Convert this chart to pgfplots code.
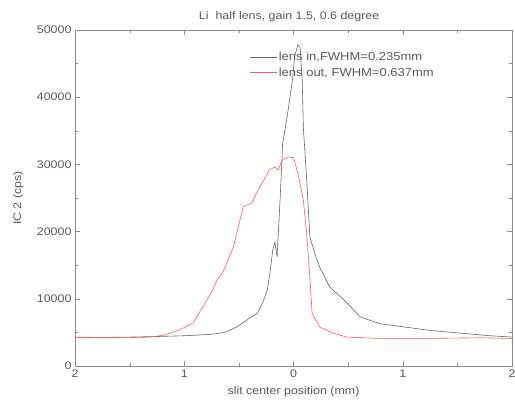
\documentclass[border=0pt]{standalone}
\usepackage{fontspec}
\setmainfont[FakeStretch=1.13]{Liberation Sans}
\usepackage{pgfplots}
\pgfplotsset{compat=1.18}
\definecolor{txt}{gray}{0.35}
\definecolor{ax}{gray}{0.55}
\definecolor{grey1}{gray}{0.4}
\definecolor{red1}{RGB}{255,90,90}
\begin{document}
\begin{tikzpicture}
\useasboundingbox (0,0) rectangle (515pt,401pt);
\begin{axis}[
  at={(75pt,35pt)}, anchor=south west,
  scale only axis, width=437pt, height=336pt,
  xmin=-2, xmax=2, ymin=0, ymax=50000,
  xtick={-2,-1,0,1,2}, xticklabels={2,1,0,1,2},
  ytick={0,10000,20000,30000,40000,50000},
  minor x tick num=1, minor y tick num=1,
  tick align=inside,
  major tick length=5pt, minor tick length=3pt,
  /pgf/number format/1000 sep={},
  /pgf/number format/assume math mode=true,
  scaled y ticks=false,
  font=\fontsize{11}{13}\selectfont,
  every tick label/.append style={text=txt},
  axis line style={ax},
  every tick/.append style={ax},
  every axis title shift=0pt,
  title={Li\ \ half lens, gain 1.5, 0.6 degree},
  title style={at={(axis description cs:0.49,1.039)}, anchor=center, text=txt},
  xlabel={slit center position (mm)},
  xlabel style={at={(axis description cs:0.5,-0.076)}, anchor=center, text=txt},
  ylabel={IC 2 (cps)},
  ylabel style={at={(axis description cs:-0.13,0.5)}, anchor=center, text=txt},
  legend style={draw=none, fill=none, at={(axis description cs:0.396,0.943)}, anchor=north west,
    font=\fontsize{11.5}{14}\selectfont, row sep=1.5pt, inner sep=1pt},
  legend cell align=left,
  legend image code/.code={\draw[mark repeat=2,mark phase=2,#1] plot coordinates {(0pt,0pt) (13pt,0pt) (27pt,0pt)};},
]
\addplot[color=grey1, line width=0.6pt] coordinates {
(-2.00,4300) (-1.77,4250) (-1.50,4300) (-1.22,4400) (-1.00,4500) (-0.76,4700)
(-0.63,5000) (-0.52,5800) (-0.43,6800) (-0.33,7900) (-0.28,9500) (-0.24,11300)
(-0.21,14500) (-0.19,17300) (-0.17,18400) (-0.15,16200) (-0.12,25700) (-0.10,33000)
(-0.05,38000) (-0.01,42500) (0.01,46000) (0.04,47800) (0.06,47500) (0.08,42500)
(0.09,35500) (0.12,28000) (0.15,19200) (0.20,16500) (0.24,14700) (0.33,11800)
(0.49,9400) (0.61,7300) (0.79,6300) (0.97,5900) (1.25,5300) (1.52,4900)
(1.80,4500) (2.00,4300)
};
\addlegendentry{\textcolor{txt}{lens in,FWHM=0.235mm}}
\addplot[color=red1, line width=0.6pt] coordinates {
(-2.00,4200) (-1.59,4200) (-1.31,4300) (-1.18,4600) (-1.04,5400) (-0.92,6400)
(-0.83,8800) (-0.74,11300) (-0.70,12800) (-0.65,13800) (-0.55,17700) (-0.46,23700)
(-0.38,24300) (-0.31,26600) (-0.22,29200) (-0.17,29600) (-0.14,29200) (-0.10,30700)
(-0.05,31100) (0.00,31000) (0.04,28700) (0.09,24700) (0.12,19800) (0.15,13200)
(0.17,7900) (0.24,5800) (0.36,4900) (0.49,4300) (0.79,4100) (1.25,4100)
(1.71,4200) (2.00,4100)
};
\addlegendentry{\textcolor{txt}{lens out, FWHM=0.637mm}}
\end{axis}
\end{tikzpicture}
\end{document}
